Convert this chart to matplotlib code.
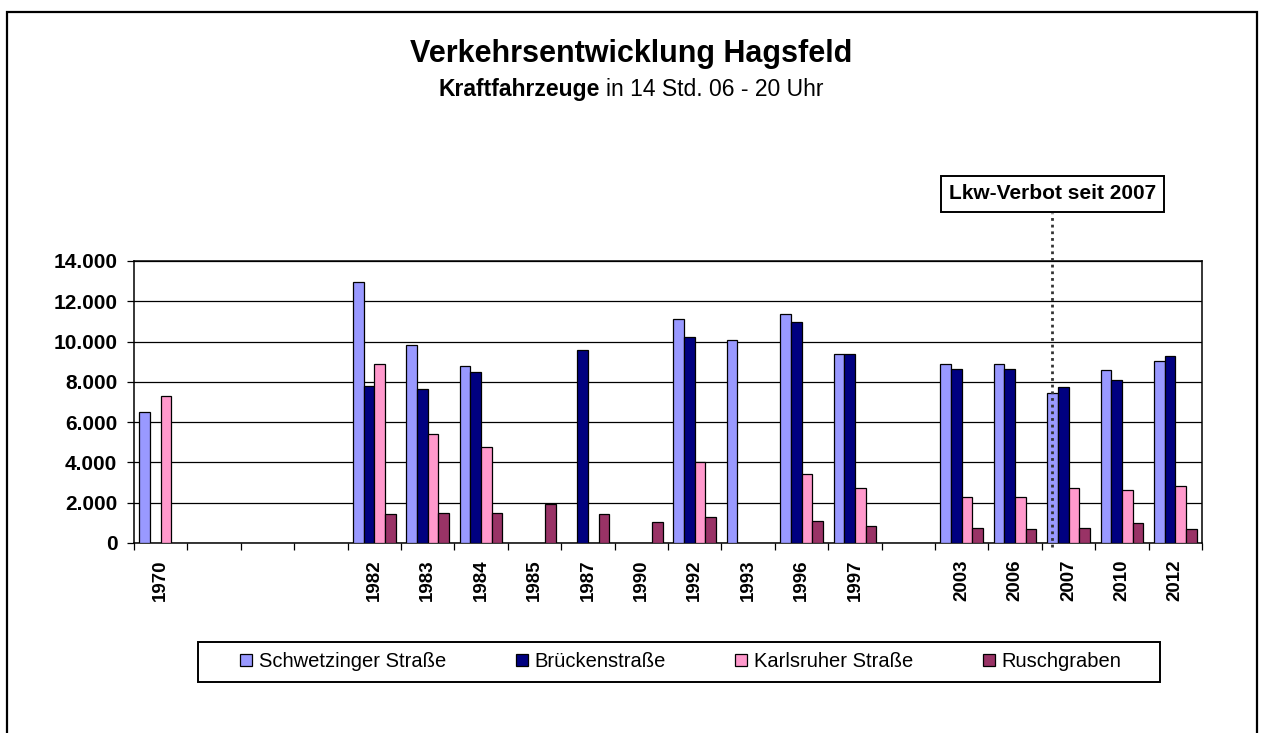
import matplotlib
matplotlib.use('Agg')
import matplotlib.pyplot as plt
import numpy as np
from matplotlib.patches import Rectangle
from matplotlib.ticker import FixedLocator, FuncFormatter
import matplotlib.transforms as mtransforms

plt.rcParams['font.family'] = ['Liberation Sans', 'DejaVu Sans']

nan = np.nan
years = ['1970', '', '', '', '1982', '1983', '1984', '1985', '1987', '1990',
         '1992', '1993', '1996', '1997', '', '2003', '2006', '2007', '2010', '2012']
schwetzinger = [6500, nan, nan, nan, 12950, 9850, 8800, nan, nan, nan,
                11100, 10100, 11350, 9400, nan, 8900, 8900, 7450, 8600, 9050]
bruecken = [nan, nan, nan, nan, 7800, 7650, 8500, nan, 9600, nan,
            10250, nan, 10950, 9400, nan, 8650, 8650, 7750, 8100, 9300]
karlsruher = [7300, nan, nan, nan, 8900, 5400, 4750, nan, nan, nan,
              4000, nan, 3450, 2750, nan, 2300, 2300, 2750, 2650, 2850]
ruschgraben = [nan, nan, nan, nan, 1450, 1500, 1500, 1950, 1450, 1050,
               1300, nan, 1100, 850, nan, 750, 700, 750, 1000, 700]

series = [('Schwetzinger Straße', schwetzinger, '#9999FF'),
          ('Brückenstraße', bruecken, '#000080'),
          ('Karlsruher Straße', karlsruher, '#FF99CC'),
          ('Ruschgraben', ruschgraben, '#993366')]
marker_year = '2007'
marker_text = 'Lkw-Verbot seit 2007'

W, H = 1262, 733
fig = plt.figure(figsize=(W / 100, H / 100), dpi=100)
ax = fig.add_axes([134 / W, 1 - 543 / H, (1202 - 134) / W, (543 - 261) / H])

# outer chart border
fig.patches.append(Rectangle((7 / W, -0.02), (1257 - 7) / W, 1.02 - 12 / H,
                             transform=fig.transFigure, fill=False,
                             edgecolor='black', linewidth=1.6))

x = np.arange(len(years))
bw = 0.2
handles = []
for i, (name, vals, col) in enumerate(series):
    vals = np.array(vals, dtype=float)
    ok = ~np.isnan(vals)
    h = ax.bar(x[ok] + (i - 1.5) * bw, vals[ok], bw, color=col,
               edgecolor='black', linewidth=0.9, zorder=3, label=name)
    handles.append(h)

ax.set_xlim(-0.5, len(years) - 0.5)
ax.set_ylim(0, 14000)
ax.yaxis.set_major_locator(FixedLocator(np.arange(0, 14001, 2000)))
ax.yaxis.set_major_formatter(FuncFormatter(lambda v, p: f'{int(v):,}'.replace(',', '.')))
ax.grid(axis='y', color='black', linewidth=0.9, zorder=1)
ax.set_axisbelow(True)

ax.set_xticks(x)
ax.set_xticklabels(years, rotation=90, fontweight='bold', fontsize=13.5)
ax.set_xticks(np.arange(-0.5, len(years)), minor=True)
ax.tick_params(axis='x', which='major', length=0, pad=12)
ax.tick_params(axis='x', which='minor', length=5, width=0.9, direction='out')
ax.tick_params(axis='y', length=5, width=0.9, pad=7, labelsize=15)
for lab in ax.get_yticklabels():
    lab.set_fontweight('bold')
for s in ax.spines.values():
    s.set_linewidth(1.1)
    s.set_color('black')

# dotted marker line and label box
xm = years.index(marker_year) - 1.5 * bw
trans = mtransforms.blended_transform_factory(ax.transData, ax.transAxes)
ax.plot([xm, xm], [-0.014, 1.17], transform=trans, clip_on=False,
        color='#333333', linewidth=2.0, linestyle=(0, (1, 1.4)), zorder=5)
ax.text(xm, 1.2376, marker_text, transform=trans, ha='center', va='center',
        fontsize=15, fontweight='bold', zorder=6,
        bbox=dict(boxstyle='square,pad=0.4', facecolor='white',
                  edgecolor='black', linewidth=1.4))

# titles
fig.text(0.5, 1 - 62 / H, 'Verkehrsentwicklung Hagsfeld', ha='center',
         va='baseline', fontsize=22, fontweight='bold')
renderer = fig.canvas.get_renderer()
t1 = fig.text(0, 1 - 96 / H, 'Kraftfahrzeuge', fontsize=16.5,
              fontweight='bold', va='baseline')
t2 = fig.text(0, 1 - 96 / H, 'in 14 Std. 06 - 20 Uhr', fontsize=16.5,
              va='baseline')
w1 = t1.get_window_extent(renderer).width
w2 = t2.get_window_extent(renderer).width
gap = 0.28 * 16.5 * 100 / 72
x0 = W / 2 - (w1 + gap + w2) / 2
t1.set_x(x0 / W)
t2.set_x((x0 + w1 + gap) / W)

# legend frame drawn separately, entries centred inside
fig.patches.append(Rectangle((198 / W, 1 - 681.7 / H), (1160 - 198) / W, 40 / H,
                             transform=fig.transFigure, fill=False,
                             edgecolor='black', linewidth=1.4))
leg = fig.legend(handles=handles, loc='center', ncol=4,
                 bbox_to_anchor=(681 / W, 1 - 661.7 / H),
                 fontsize=14.5, frameon=False,
                 handlelength=0.58, handleheight=0.58, handletextpad=0.35,
                 columnspacing=3.45, borderpad=0, borderaxespad=0)

fig.savefig('out.png', dpi=100, facecolor='white')
